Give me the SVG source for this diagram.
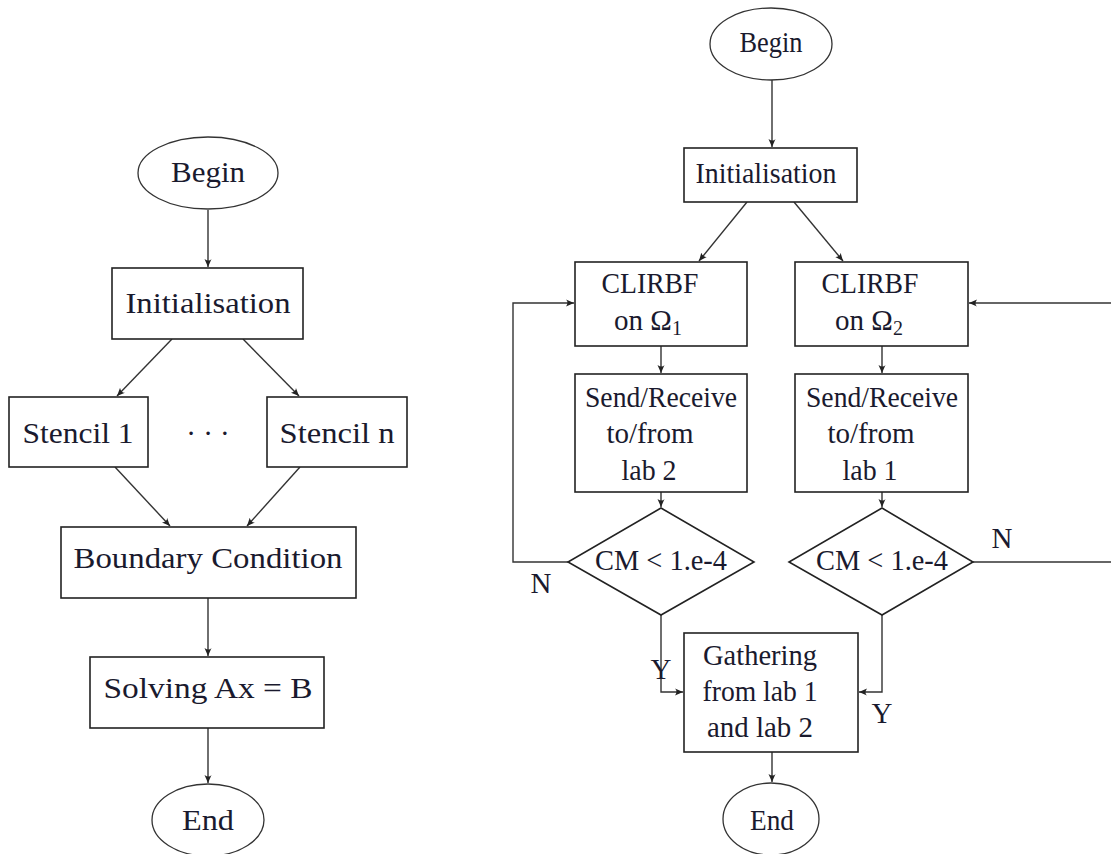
<svg xmlns="http://www.w3.org/2000/svg" width="1111" height="854" viewBox="0 0 1111 854">
<defs>
<style>
.box{fill:#fff;stroke:#222;stroke-width:1.6}
.ell{fill:#fff;stroke:#333;stroke-width:1.3}
.ln{fill:none;stroke:#333;stroke-width:1.4}
.t{font-family:"Liberation Serif","Times New Roman",serif;font-size:29px;fill:#1a1a2e;text-anchor:middle}
.s{font-size:20px}
</style>
<marker id="ah" markerUnits="userSpaceOnUse" markerWidth="10" markerHeight="8" refX="8" refY="4" orient="auto">
<path d="M0,0.5 Q3,3 0,7.5 L8,4 Z" fill="#222"/>
</marker>
</defs>
<rect width="1111" height="854" fill="#fff"/>

<g id="connectors">
<!-- left chart -->
<line class="ln" x1="208" y1="210" x2="208" y2="267" marker-end="url(#ah)"/>
<line class="ln" x1="172" y1="339" x2="117" y2="396" marker-end="url(#ah)"/>
<line class="ln" x1="243" y1="339" x2="299" y2="396" marker-end="url(#ah)"/>
<line class="ln" x1="115" y1="467" x2="170" y2="526" marker-end="url(#ah)"/>
<line class="ln" x1="300" y1="467" x2="247" y2="526" marker-end="url(#ah)"/>
<line class="ln" x1="208" y1="598" x2="208" y2="656" marker-end="url(#ah)"/>
<line class="ln" x1="208" y1="728" x2="208" y2="783" marker-end="url(#ah)"/>
<!-- right chart -->
<line class="ln" x1="772" y1="80" x2="772" y2="147" marker-end="url(#ah)"/>
<line class="ln" x1="747" y1="202" x2="699" y2="261" marker-end="url(#ah)"/>
<line class="ln" x1="794" y1="202" x2="843" y2="261" marker-end="url(#ah)"/>
<line class="ln" x1="661" y1="346" x2="661" y2="373" marker-end="url(#ah)"/>
<line class="ln" x1="882" y1="346" x2="882" y2="373" marker-end="url(#ah)"/>
<line class="ln" x1="661" y1="492" x2="661" y2="507" marker-end="url(#ah)"/>
<line class="ln" x1="882" y1="492" x2="882" y2="507" marker-end="url(#ah)"/>
<polyline class="ln" points="568,562 513,562 513,303 574,303" marker-end="url(#ah)"/>
<line class="ln" x1="973" y1="562" x2="1111" y2="562"/>
<line class="ln" x1="1111" y1="303" x2="969" y2="303" marker-end="url(#ah)"/>
<polyline class="ln" points="661,615 661,692 683,692" marker-end="url(#ah)"/>
<polyline class="ln" points="882,615 882,692 859,692" marker-end="url(#ah)"/>
<line class="ln" x1="772" y1="752" x2="772" y2="782" marker-end="url(#ah)"/>
<text class="t" x="661" y="679">Y</text>
<text class="t" x="882" y="723">Y</text>
<text class="t" x="541" y="593">N</text>
<text class="t" x="1002" y="548">N</text>
</g>

<!-- Left flowchart -->
<g id="l-begin">
<ellipse class="ell" cx="208" cy="173" rx="70" ry="36"/>
<text class="t" x="208" y="182" textLength="74" lengthAdjust="spacingAndGlyphs">Begin</text>
</g>
<g id="l-init">
<rect class="box" x="112" y="268" width="191" height="71"/>
<text class="t" x="208" y="313" textLength="165" lengthAdjust="spacingAndGlyphs">Initialisation</text>
</g>
<g id="l-stencil1">
<rect class="box" x="9" y="397" width="139" height="70"/>
<text class="t" x="78" y="443" textLength="111" lengthAdjust="spacingAndGlyphs">Stencil 1</text>
</g>
<g id="l-dots">
<text class="t" x="208" y="443">· · ·</text>
</g>
<g id="l-stenciln">
<rect class="box" x="267" y="397" width="140" height="70"/>
<text class="t" x="337" y="443" textLength="115" lengthAdjust="spacingAndGlyphs">Stencil n</text>
</g>
<g id="l-boundary">
<rect class="box" x="61" y="527" width="295" height="71"/>
<text class="t" x="208" y="568" textLength="269" lengthAdjust="spacingAndGlyphs">Boundary Condition</text>
</g>
<g id="l-solving">
<rect class="box" x="90" y="657" width="234" height="71"/>
<text class="t" x="208" y="698" textLength="209" lengthAdjust="spacingAndGlyphs">Solving Ax = B</text>
</g>
<g id="l-end">
<ellipse class="ell" cx="208" cy="820" rx="56" ry="36"/>
<text class="t" x="208" y="830" textLength="52" lengthAdjust="spacingAndGlyphs">End</text>
</g>

<!-- Right flowchart -->
<g id="r-begin">
<ellipse class="ell" cx="771" cy="44" rx="61" ry="36"/>
<text class="t" x="771" y="52" textLength="63" lengthAdjust="spacingAndGlyphs">Begin</text>
</g>
<g id="r-init">
<rect class="box" x="684" y="148" width="173" height="54"/>
<text class="t" x="766" y="183" textLength="141" lengthAdjust="spacingAndGlyphs">Initialisation</text>
</g>
<g id="r-clirbf1">
<rect class="box" x="575" y="262" width="172" height="84"/>
<text class="t" x="650" y="293" textLength="97" lengthAdjust="spacingAndGlyphs">CLIRBF</text>
<text class="t" x="648" y="330">on Ω<tspan class="s" dy="5">1</tspan></text>
</g>
<g id="r-clirbf2">
<rect class="box" x="795" y="262" width="173" height="84"/>
<text class="t" x="870" y="293" textLength="97" lengthAdjust="spacingAndGlyphs">CLIRBF</text>
<text class="t" x="869" y="330">on Ω<tspan class="s" dy="5">2</tspan></text>
</g>
<g id="r-send1">
<rect class="box" x="575" y="374" width="172" height="118"/>
<text class="t" x="661" y="407" textLength="152" lengthAdjust="spacingAndGlyphs">Send/Receive</text>
<text class="t" x="650" y="443" textLength="87" lengthAdjust="spacingAndGlyphs">to/from</text>
<text class="t" x="649" y="480" textLength="55" lengthAdjust="spacingAndGlyphs">lab 2</text>
</g>
<g id="r-send2">
<rect class="box" x="795" y="374" width="173" height="118"/>
<text class="t" x="882" y="407" textLength="152" lengthAdjust="spacingAndGlyphs">Send/Receive</text>
<text class="t" x="871" y="443" textLength="87" lengthAdjust="spacingAndGlyphs">to/from</text>
<text class="t" x="870" y="480" textLength="55" lengthAdjust="spacingAndGlyphs">lab 1</text>
</g>
<g id="r-cond1">
<polygon class="box" points="661,508 754,562 661,615 568,562"/>
<text class="t" x="661" y="570" textLength="132" lengthAdjust="spacingAndGlyphs">CM &lt; 1.e-4</text>
</g>
<g id="r-cond2">
<polygon class="box" points="882,508 973,562 882,615 789,562"/>
<text class="t" x="882" y="570" textLength="132" lengthAdjust="spacingAndGlyphs">CM &lt; 1.e-4</text>
</g>
<g id="r-gather">
<rect class="box" x="684" y="633" width="174" height="119"/>
<text class="t" x="760" y="665" textLength="114" lengthAdjust="spacingAndGlyphs">Gathering</text>
<text class="t" x="760" y="701" textLength="115" lengthAdjust="spacingAndGlyphs">from lab 1</text>
<text class="t" x="760" y="737" textLength="106" lengthAdjust="spacingAndGlyphs">and lab 2</text>
</g>
<g id="r-end">
<ellipse class="ell" cx="771" cy="819" rx="48" ry="36"/>
<text class="t" x="772" y="830" textLength="44" lengthAdjust="spacingAndGlyphs">End</text>
</g>
</svg>
